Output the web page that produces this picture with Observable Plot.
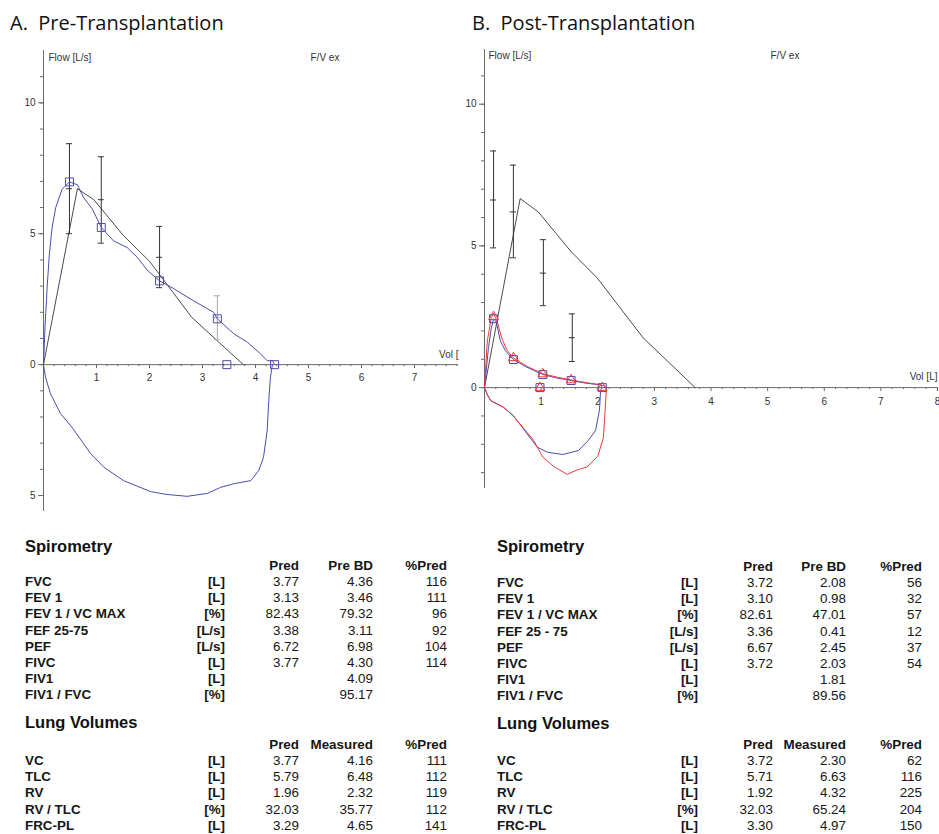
<!DOCTYPE html>
<html>
<head>
<meta charset="utf-8">
<script src="https://cdn.jsdelivr.net/npm/d3@7"></script>
<script src="https://cdn.jsdelivr.net/npm/@observablehq/plot@0.6"></script>
<style>
  body { margin: 0; background: #fff; }
  #page { position: relative; width: 939px; height: 834px; background: #fff; overflow: hidden; }
  .title { position: absolute; font-family: "Open Sans", sans-serif; font-size: 20px; line-height: 20px; color: #111; white-space: pre; }
  .chart { position: absolute; top: 0; }
  .chart svg { overflow: visible; }
  .t { position: absolute; font-family: "Liberation Sans", Arial, sans-serif; font-size: 13.4px; line-height: 16px; height: 16px; color: #161616; white-space: pre; }
  .b { font-weight: bold; }
  .h { font-family: "Liberation Sans", Arial, sans-serif; font-weight: bold; font-size: 16.5px; line-height: 20px; position: absolute; color: #111; white-space: pre; }
</style>
</head>
<body>
<div id="page">
  <div class="title" style="left:10px; top:13px;">A.  Pre-Transplantation</div>
  <div class="title" style="left:472px; top:13px;">B.  Post-Transplantation</div>
  <div id="chartA" class="chart" style="left:0px;"></div>
  <div id="chartB" class="chart" style="left:470px;"></div>
</div>
<script>
// ---------------- DATA ----------------
// A. Pre-transplantation (volume L, flow L/s)
const prePredicted = [[0,0],[0.64,6.72],[0.95,6.3],[1.5,4.95],[2.0,3.95],[2.8,1.8],[3.77,0]];
const preRangeX   = [0.49, 1.09, 2.19, 3.28];
const preRangeLo  = [5.0, 4.64, 2.94, 0.95];
const preRangeMid = [6.72, 6.3, 4.1, 1.8];
const preRangeHi  = [8.44, 7.94, 5.28, 2.63];
const preExp = [[0,0],[0.03,1.5],[0.07,3.0],[0.11,4.2],[0.16,5.2],[0.23,6.0],[0.35,6.7],[0.49,6.98],[0.64,6.87],
  [0.76,6.37],[0.92,5.95],[1.09,5.24],[1.32,4.73],[1.58,4.47],[1.77,4.1],[1.96,3.6],[2.19,3.2],[2.46,2.9],
  [2.83,2.44],[3.21,2.0],[3.28,1.75],[3.59,1.18],[3.85,0.85],[4.09,0.42],[4.22,0.15],[4.32,0.15],[4.36,0]];
const preInsp = [[0,0],[0.04,-0.5],[0.13,-1.1],[0.32,-1.87],[0.54,-2.4],[0.89,-3.4],[1.14,-3.92],[1.51,-4.43],
  [2.02,-4.85],[2.33,-4.96],[2.71,-5.03],[3.09,-4.92],[3.34,-4.69],[3.59,-4.55],[3.91,-4.43],[4.06,-4.05],
  [4.15,-3.55],[4.22,-2.52],[4.25,-1.37],[4.28,-0.5],[4.32,0]];
const preSquareX = [0.49, 1.09, 2.19, 3.28, 3.46, 4.36];
const preSquareY = [6.98, 5.24, 3.2, 1.75, 0, 0];

// B. Post-transplantation
const postPredicted = [[0,0],[0.63,6.67],[0.95,6.2],[1.52,4.82],[1.99,3.87],[2.8,1.76],[3.72,0]];
const postRangeX   = [0.16, 0.51, 1.04, 1.55];
const postRangeLo  = [4.93, 4.58, 2.89, 0.92];
const postRangeMid = [6.62, 6.2, 4.04, 1.76];
const postRangeHi  = [8.35, 7.85, 5.22, 2.6];
const postBlueExp = [[0,0],[0.04,0.8],[0.07,1.41],[0.12,2.1],[0.16,2.43],[0.21,2.3],[0.28,1.65],[0.37,1.3],
  [0.51,0.99],[0.75,0.72],[1.03,0.46],[1.28,0.34],[1.53,0.25],[1.81,0.15],[2.05,0.1],[2.08,0]];
const postBlueInsp = [[0,0],[0.05,-0.25],[0.11,-0.46],[0.34,-0.7],[0.51,-0.99],[0.93,-2.1],[1.11,-2.28],
  [1.38,-2.36],[1.66,-2.22],[1.83,-1.87],[1.96,-1.52],[2.03,-0.8],[2.05,-0.1],[2.08,0]];
const postRedExp = [[0,0],[0.03,1.0],[0.05,1.65],[0.12,2.47],[0.16,2.62],[0.22,2.35],[0.31,1.72],[0.40,1.31],
  [0.51,1.05],[0.75,0.75],[1.03,0.49],[1.28,0.37],[1.53,0.27],[1.81,0.17],[2.05,0.1],[2.13,0.05],[2.15,0]];
const postRedInsp = [[0,0],[0.05,-0.25],[0.11,-0.46],[0.34,-0.7],[0.51,-1.0],[0.87,-1.87],[1.03,-2.45],
  [1.22,-2.78],[1.46,-3.06],[1.64,-2.9],[1.81,-2.8],[2.0,-2.43],[2.1,-1.76],[2.13,-0.8],[2.15,-0.1],[2.15,0]];
const postSquareX = [0.16, 0.51, 1.03, 1.53, 0.98, 2.08];
const postSquareY = [2.43, 0.99, 0.46, 0.25, 0, 0];
const postTriX = [0.16, 0.51, 1.03, 1.53, 0.98, 2.08];
const postTriY = [2.5, 1.05, 0.48, 0.27, 0, 0];

// Tick labels
const yMajorTicks = [-5, 0, 5, 10];
const preXTickLabels = [1, 2, 3, 4, 5, 6, 7];
const postXTickLabels = [1, 2, 3, 4, 5, 6, 7, 8];

// Tables
const preSpiroLabels = ["FVC","FEV 1","FEV 1 / VC MAX","FEF 25-75","PEF","FIVC","FIV1","FIV1 / FVC"];
const postSpiroLabels = ["FVC","FEV 1","FEV 1 / VC MAX","FEF 25 - 75","PEF","FIVC","FIV1","FIV1 / FVC"];
const spiroUnits = ["[L]","[L]","[%]","[L/s]","[L/s]","[L]","[L]","[%]"];
const preSpiroPred = ["3.77","3.13","82.43","3.38","6.72","3.77","",""];
const preSpiroBD   = ["4.36","3.46","79.32","3.11","6.98","4.30","4.09","95.17"];
const preSpiroPct  = ["116","111","96","92","104","114","",""];
const postSpiroPred = ["3.72","3.10","82.61","3.36","6.67","3.72","",""];
const postSpiroBD   = ["2.08","0.98","47.01","0.41","2.45","2.03","1.81","89.56"];
const postSpiroPct  = ["56","32","57","12","37","54","",""];
const lungLabels = ["VC","TLC","RV","RV / TLC","FRC-PL"];
const lungUnits = ["[L]","[L]","[L]","[%]","[L]"];
const preLungPred = ["3.77","5.79","1.96","32.03","3.29"];
const preLungMeas = ["4.16","6.48","2.32","35.77","4.65"];
const preLungPct  = ["111","112","119","112","141"];
const postLungPred = ["3.72","5.71","1.92","32.03","3.30"];
const postLungMeas = ["2.30","6.63","4.32","65.24","4.97"];
const postLungPct  = ["62","116","225","204","150"];

// ---------------- CHARTS ----------------
const BLUE = "#4b4bb2", RED = "#f03a3a", GRAY = "#4a4a4a", AXIS = "#6a6a6a", TXT = "#333";

function fvChart(o) {
  const idx = d3.range(o.rangeX.length);
  const minor = d3.range(0, o.xMax + 1e-9, 0.2).map(v => +v.toFixed(1)).filter(v => Math.abs(v - Math.round(v)) > 1e-6);
  const major = d3.range(0, Math.floor(o.xMax + 1e-9) + 1);
  const yMinor = d3.range(Math.ceil(o.yMin), Math.floor(o.yMax - 0.5) + 1);
  const marks = [
    Plot.ruleX([0], {stroke: AXIS}),
    Plot.ruleY([0], {stroke: AXIS}),
    Plot.axisY(yMinor, {tickSize: 3, tickFormat: () => "", stroke: AXIS}),
    Plot.axisY(yMajorTicks.filter(v => v >= o.yMin && v <= o.yMax), {tickSize: 5, tickPadding: 3, tickFormat: d => String(Math.abs(d)), stroke: AXIS, fill: TXT}),
    Plot.ruleX(minor, {x: d => d, y1: 0, y2: 0, insetBottom: -2, stroke: AXIS}),
    Plot.ruleX(major, {x: d => d, y1: 0, y2: 0, insetBottom: -4, stroke: AXIS}),
    Plot.text(o.xLabels, {x: d => d, y: 0, dy: o.xLabelDy, text: d => String(d), fill: TXT}),
    Plot.text([o.volLabel], {x: o.xMax, y: 0, dy: o.volDy, textAnchor: "end", fill: TXT}),
    Plot.text(["Flow [L/s]"], {frameAnchor: "top-left", dx: o.flowDx, dy: o.flowDy, textAnchor: "start", lineAnchor: "middle", fill: TXT}),
    Plot.text(["F/V ex"], {frameAnchor: "top-left", dx: o.fvDx, dy: o.flowDy, textAnchor: "start", lineAnchor: "middle", fill: TXT}),
    // predicted curve
    Plot.line(o.predicted, {x: d => d[0], y: d => d[1], stroke: GRAY, strokeWidth: 1}),
    // predicted ranges
    Plot.ruleX(idx, {x: i => o.rangeX[i], y1: i => o.rangeLo[i], y2: i => o.rangeHi[i], stroke: i => o.rangeStroke(i), strokeWidth: 1}),
    ...[o.rangeLo, o.rangeMid, o.rangeHi].map(arr =>
      Plot.ruleY(idx, {y: i => arr[i], x1: i => o.rangeX[i], x2: i => o.rangeX[i], insetLeft: -3, insetRight: -3, stroke: i => o.rangeStroke(i), strokeWidth: 1}))
  ];
  for (const c of o.curves) {
    marks.push(Plot.line(c.data, {x: d => d[0], y: d => d[1], stroke: c.color, strokeWidth: 1}));
  }
  marks.push(Plot.dot(d3.range(o.sqX.length), {x: i => o.sqX[i], y: i => o.sqY[i], symbol: "square", r: 4.5, stroke: BLUE, fill: "none", strokeWidth: 1}));
  if (o.triX) {
    marks.push(Plot.dot(d3.range(o.triX.length), {x: i => o.triX[i], y: i => o.triY[i], symbol: "triangle", r: 3.6, stroke: RED, fill: "none", strokeWidth: 1}));
  }
  return Plot.plot({
    width: o.width, height: o.height,
    marginLeft: o.ml, marginRight: o.mr, marginTop: o.mt, marginBottom: o.mb,
    x: {domain: [0, o.xMax], axis: null},
    y: {domain: [o.yMin, o.yMax]},
    style: {background: "transparent", fontFamily: "'Liberation Sans', Arial, sans-serif", fontSize: "10px", overflow: "visible"},
    marks
  });
}

document.getElementById("chartA").append(fvChart({
  width: 470, height: 520, ml: 43, mr: 12, mt: 50, mb: 9,
  xMax: 7.83, yMin: -5.61, yMax: 12,
  predicted: prePredicted,
  rangeX: preRangeX, rangeLo: preRangeLo, rangeMid: preRangeMid, rangeHi: preRangeHi,
  rangeStroke: i => i === 3 ? "#a8a8a8" : "#333",
  curves: [{data: preExp, color: BLUE}, {data: preInsp, color: BLUE}],
  sqX: preSquareX, sqY: preSquareY,
  xLabels: preXTickLabels, xLabelDy: 13, volLabel: "Vol [", volDy: -10,
  flowDx: 5, flowDy: 7, fvDx: 267
}));

document.getElementById("chartB").append(fvChart({
  width: 469, height: 520, ml: 14, mr: 2, mt: 49, mb: 32,
  xMax: 8, yMin: -3.56, yMax: 11.93,
  predicted: postPredicted,
  rangeX: postRangeX, rangeLo: postRangeLo, rangeMid: postRangeMid, rangeHi: postRangeHi,
  rangeStroke: () => "#333",
  curves: [{data: postBlueExp, color: BLUE}, {data: postBlueInsp, color: BLUE}, {data: postRedExp, color: RED}, {data: postRedInsp, color: RED}],
  sqX: postSquareX, sqY: postSquareY, triX: postTriX, triY: postTriY,
  xLabels: postXTickLabels, xLabelDy: 14, volLabel: "Vol [L]", volDy: -11,
  flowDx: 4, flowDy: 6, fvDx: 286
}));

// ---------------- TABLES ----------------
const page = document.getElementById("page");
function put(text, cls, x, yc, alignRight) {
  const el = document.createElement("div");
  el.className = cls;
  el.textContent = text;
  if (alignRight) { el.style.right = (939 - x) + "px"; el.style.textAlign = "right"; }
  else el.style.left = x + "px";
  el.style.top = (yc - (cls === "h" ? 10 : 8)) + "px";
  page.append(el);
}
function table(cols, title, titleY, headers, headerY, labels, units, c1, c2, c3, rowY) {
  put(title, "h", cols.label, titleY, false);
  put(headers[0], "t b", cols.c1, headerY, true);
  put(headers[1], "t b", cols.c2, headerY, true);
  put(headers[2], "t b", cols.c3, headerY, true);
  labels.forEach((lab, i) => {
    const y = rowY + i * 16.2;
    put(lab, "t b", cols.label, y, false);
    put(units[i], "t b", cols.unit, y, true);
    if (c1[i]) put(c1[i], "t", cols.c1, y, true);
    if (c2[i]) put(c2[i], "t", cols.c2, y, true);
    if (c3[i]) put(c3[i], "t", cols.c3, y, true);
  });
}
const leftCols = {label: 25, unit: 225, c1: 299, c2: 373, c3: 447};
const rightCols = {label: 497, unit: 698, c1: 773, c2: 846, c3: 922};
table(leftCols, "Spirometry", 546, ["Pred","Pre BD","%Pred"], 566, preSpiroLabels, spiroUnits, preSpiroPred, preSpiroBD, preSpiroPct, 582);
table(leftCols, "Lung Volumes", 722, ["Pred","Measured","%Pred"], 745, lungLabels, lungUnits, preLungPred, preLungMeas, preLungPct, 761);
table(rightCols, "Spirometry", 546, ["Pred","Pre BD","%Pred"], 567, postSpiroLabels, spiroUnits, postSpiroPred, postSpiroBD, postSpiroPct, 583);
table(rightCols, "Lung Volumes", 723, ["Pred","Measured","%Pred"], 745, lungLabels, lungUnits, postLungPred, postLungMeas, postLungPct, 761);
</script>
</body>
</html>
